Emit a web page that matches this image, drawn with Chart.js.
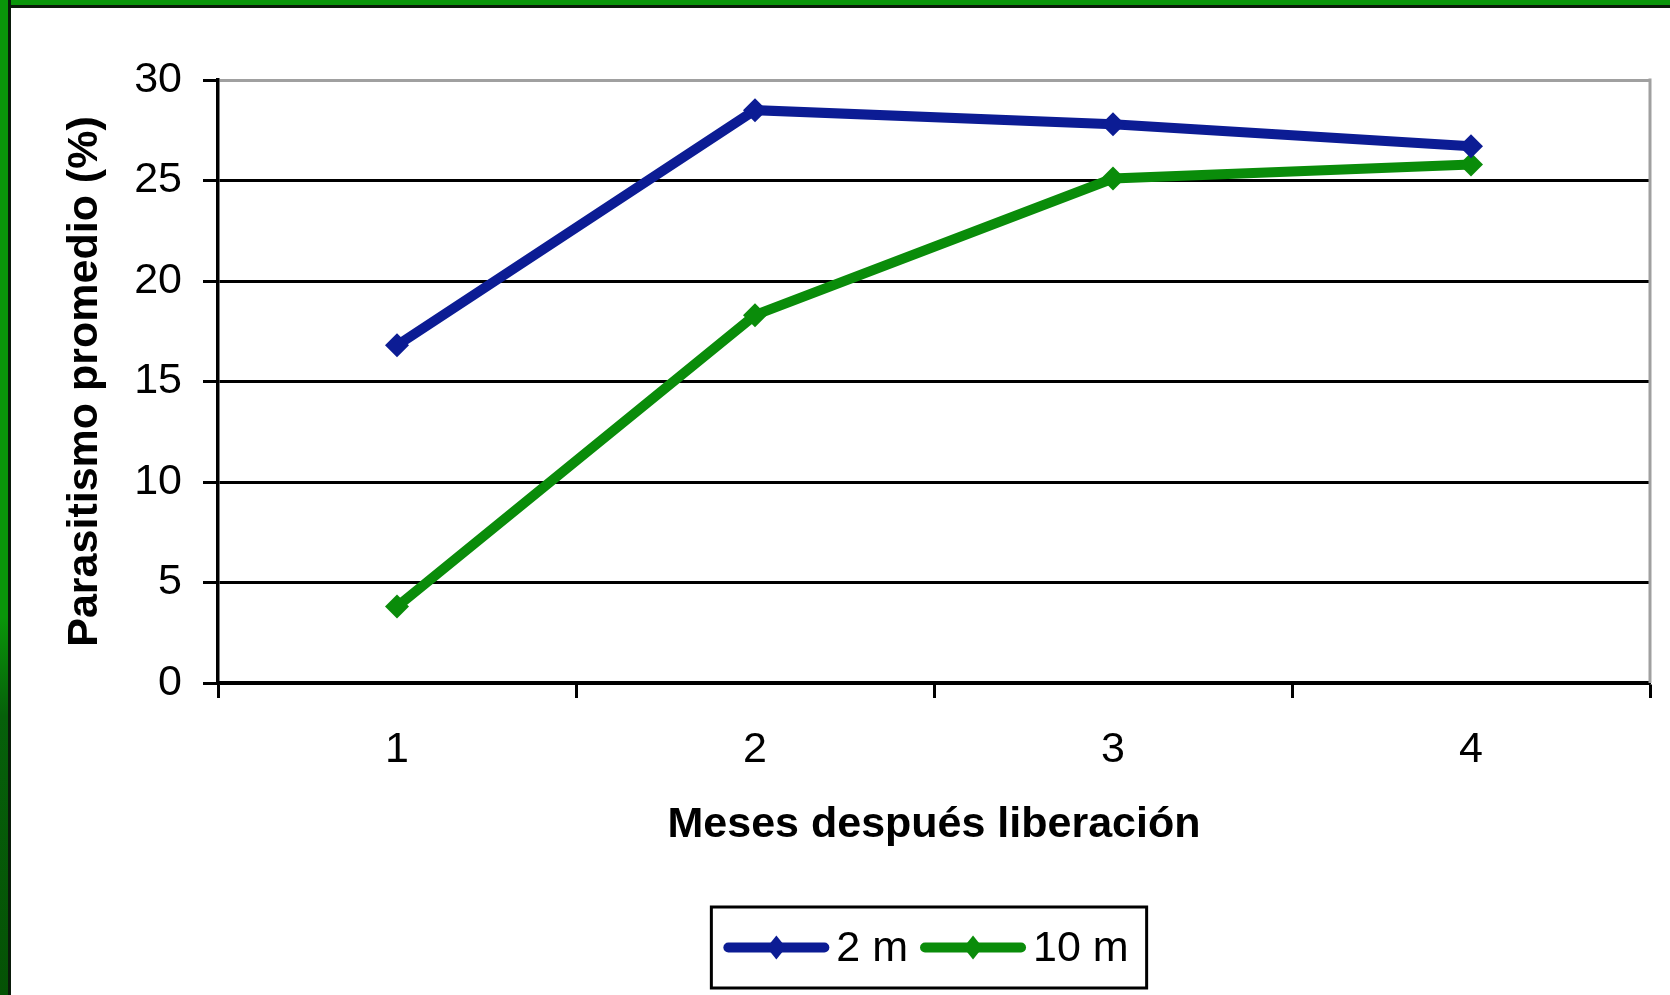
<!DOCTYPE html>
<html>
<head>
<meta charset="utf-8">
<script src="https://cdn.jsdelivr.net/npm/chart.js@4.4.1/dist/chart.umd.min.js"></script>
<style>
  html, body { margin: 0; padding: 0; background: #ffffff; overflow: hidden; }
  #frameTop { position: absolute; left: 0; top: 0; width: 1670px; height: 5px; background: #0a960a; border-bottom: 3px solid #0a1a0a; }
  #frameLeft { position: absolute; left: 0; top: 0; width: 8px; height: 995px;
    background: linear-gradient(to bottom, #0a960a 0%, #0a960a 62%, #06600a 72%, #055205 100%);
    border-right: 3px solid #0a1a0a; }
  #wrap { position: absolute; left: 0; top: 0; width: 1670px; height: 995px; }
</style>
</head>
<body>
<div id="frameTop"></div>
<div id="frameLeft"></div>
<div id="wrap"><canvas id="c"></canvas></div>
<script>
const categories = ['1', '2', '3', '4'];
const seriesNames = ['2 m', '10 m'];
const values2m = [16.8, 28.5, 27.8, 26.7];
const values10m = [3.8, 18.3, 25.1, 25.8];
const yTicks = [0, 5, 10, 15, 20, 25, 30];
const xTitle = 'Meses después liberación';
const yTitle = 'Parasitismo promedio (%)';

const BLUE = '#0c1c94';
const GREEN = '#0a8c0a';
const FONT = "'Liberation Sans', Arial, sans-serif";

const frameAndLegend = {
  id: 'frameAndLegend',
  afterDraw(chart) {
    const ctx = chart.ctx;
    const a = chart.chartArea;
    ctx.save();
    ctx.strokeStyle = '#a0a0a0';
    ctx.lineWidth = 3;
    ctx.beginPath();
    ctx.moveTo(a.right, a.top - 1.5);
    ctx.lineTo(a.right, a.bottom);
    ctx.stroke();
    ctx.restore();

    const ds = chart.data.datasets;
    ctx.save();
    ctx.font = '43px ' + FONT;
    const lineLen = 96, gapText = 12, gapItem = 17, padL = 17, padR = 18;
    let total = padL;
    ds.forEach((d, i) => {
      total += lineLen + gapText + ctx.measureText(d.label).width;
      if (i < ds.length - 1) total += gapItem;
    });
    total += padR;
    const boxW = total, boxH = 81;
    const cx = 929;
    const bx = cx - boxW / 2, by = 907;
    ctx.strokeStyle = '#000';
    ctx.lineWidth = 3;
    ctx.strokeRect(bx, by, boxW, boxH);
    const my = by + boxH / 2;
    let x = bx + padL;
    ds.forEach((d) => {
      ctx.strokeStyle = d.borderColor;
      ctx.lineWidth = 10;
      ctx.lineCap = 'round';
      ctx.beginPath();
      ctx.moveTo(x, my);
      ctx.lineTo(x + lineLen, my);
      ctx.stroke();
      const dx = x + lineLen / 2, r = 12;
      ctx.fillStyle = d.borderColor;
      ctx.beginPath();
      ctx.moveTo(dx, my - r);
      ctx.lineTo(dx + r * 0.8, my);
      ctx.lineTo(dx, my + r);
      ctx.lineTo(dx - r * 0.8, my);
      ctx.closePath();
      ctx.fill();
      x += lineLen + gapText;
      ctx.fillStyle = '#000';
      ctx.textBaseline = 'middle';
      ctx.textAlign = 'left';
      ctx.fillText(d.label, x, my + 2);
      x += ctx.measureText(d.label).width + gapItem;
    });
    ctx.restore();
  }
};

new Chart(document.getElementById('c'), {
  type: 'line',
  data: {
    labels: categories,
    datasets: [
      { label: seriesNames[0], data: values2m, borderColor: BLUE, backgroundColor: BLUE,
        borderWidth: 10, pointStyle: 'rectRot', pointRadius: 12, pointBorderWidth: 0, tension: 0 },
      { label: seriesNames[1], data: values10m, borderColor: GREEN, backgroundColor: GREEN,
        borderWidth: 10, pointStyle: 'rectRot', pointRadius: 12, pointBorderWidth: 0, tension: 0 }
    ]
  },
  options: {
    responsive: true,
    maintainAspectRatio: false,
    animation: false,
    layout: { padding: { top: 80, right: 20, bottom: 142, left: 0 } },
    plugins: { legend: { display: false }, tooltip: { enabled: false } },
    scales: {
      x: {
        type: 'category',
        offset: true,
        afterFit(scale) { scale.height = 170; },
        grid: { offset: true, drawOnChartArea: false, drawTicks: true, tickLength: 15, tickColor: '#000', tickWidth: 3 },
        border: { display: true, color: '#000', width: 3.5 },
        ticks: { color: '#000', font: { family: FONT, size: 43 }, padding: 26, maxRotation: 0 },
        title: { display: true, text: xTitle, color: '#000', font: { family: FONT, size: 43, weight: 'bold' }, padding: { top: 0, bottom: 2 } }
      },
      y: {
        min: 0, max: 30,
        afterFit(scale) { scale.width = 218; },
        afterBuildTicks(scale) { scale.ticks = yTicks.map(v => ({ value: v })); },
        grid: {
          color: (c) => (c.tick && c.tick.value === 30 ? '#a0a0a0' : '#000'),
          lineWidth: 3,
          drawTicks: true, tickLength: 15, tickColor: '#000', tickWidth: 3
        },
        border: { display: true, color: '#000', width: 3.5 },
        ticks: { color: '#000', font: { family: FONT, size: 43 }, padding: 21 },
        title: { display: true, text: yTitle, color: '#000', font: { family: FONT, size: 43, weight: 'bold' }, padding: { top: 59, bottom: 0 } }
      }
    }
  },
  plugins: [frameAndLegend]
});
</script>
</body>
</html>
